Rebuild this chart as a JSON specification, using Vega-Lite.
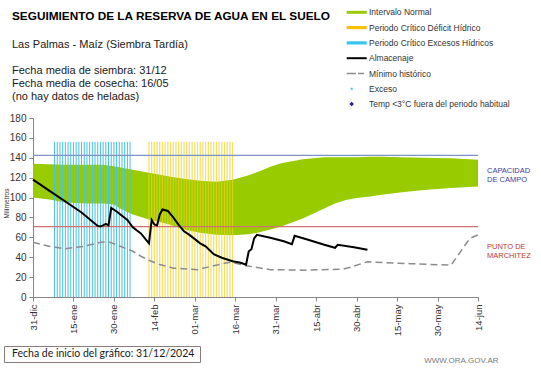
{
  "$schema": "https://vega.github.io/schema/vega-lite/v6.json",
  "width": 445,
  "height": 179,
  "autosize": {"type": "none"},
  "padding": {"left": 33, "top": 118, "right": 63, "bottom": 71},
  "background": "white",
  "config": {"view": {"stroke": null}, "font": "Liberation Sans", "axis": {"labelOverlap": false}},
  "title": {
    "text": "SEGUIMIENTO DE LA RESERVA DE AGUA  EN EL SUELO",
    "subtitle": ["Las Palmas - Maíz  (Siembra Tardía)", "\u200b", "Fecha media de siembra: 31/12", "Fecha media de cosecha: 16/05", "(no hay  datos de heladas)"],
    "anchor": "start",
    "frame": "group",
    "dx": -21,
    "offset": -95,
    "font": "Liberation Sans",
    "fontSize": 11.8,
    "fontWeight": "bold",
    "color": "#000000",
    "subtitleFont": "Liberation Sans",
    "subtitleFontSize": 11,
    "subtitleColor": "#1a1a1a",
    "subtitleLineHeight": 13,
    "subtitlePadding": 17
  },
  "datasets": {
    "intervalo": [
      {"fecha": "2024-12-31", "inf": 100, "sup": 134},
      {"fecha": "2025-01-06", "inf": 98, "sup": 133.5},
      {"fecha": "2025-01-12", "inf": 95, "sup": 133},
      {"fecha": "2025-01-20", "inf": 94, "sup": 133},
      {"fecha": "2025-01-26", "inf": 94, "sup": 133},
      {"fecha": "2025-01-30", "inf": 93, "sup": 131.5},
      {"fecha": "2025-02-02", "inf": 88, "sup": 130},
      {"fecha": "2025-02-06", "inf": 83, "sup": 128},
      {"fecha": "2025-02-12", "inf": 78, "sup": 125},
      {"fecha": "2025-02-19", "inf": 73.5, "sup": 121.5},
      {"fecha": "2025-02-25", "inf": 68, "sup": 119},
      {"fecha": "2025-03-03", "inf": 64.5, "sup": 117},
      {"fecha": "2025-03-09", "inf": 62.5, "sup": 116},
      {"fecha": "2025-03-15", "inf": 62, "sup": 118},
      {"fecha": "2025-03-21", "inf": 63, "sup": 122.5},
      {"fecha": "2025-03-25", "inf": 65, "sup": 126.5},
      {"fecha": "2025-03-29", "inf": 68, "sup": 131},
      {"fecha": "2025-04-02", "inf": 71, "sup": 134.5},
      {"fecha": "2025-04-06", "inf": 75, "sup": 136.5},
      {"fecha": "2025-04-10", "inf": 79, "sup": 138.5},
      {"fecha": "2025-04-14", "inf": 84, "sup": 139.5},
      {"fecha": "2025-04-18", "inf": 89, "sup": 140.5},
      {"fecha": "2025-04-22", "inf": 94, "sup": 140.5},
      {"fecha": "2025-04-26", "inf": 97.5, "sup": 140.5},
      {"fecha": "2025-04-30", "inf": 99.5, "sup": 140.5},
      {"fecha": "2025-05-05", "inf": 101, "sup": 141},
      {"fecha": "2025-05-10", "inf": 103, "sup": 141},
      {"fecha": "2025-05-16", "inf": 105, "sup": 140.5},
      {"fecha": "2025-05-25", "inf": 107.5, "sup": 140},
      {"fecha": "2025-06-04", "inf": 109.5, "sup": 139.5},
      {"fecha": "2025-06-14", "inf": 111, "sup": 138}
    ],
    "excesos": [
      {"fecha": "2025-01-08"}, {"fecha": "2025-01-09"}, {"fecha": "2025-01-10"}, {"fecha": "2025-01-11"},
      {"fecha": "2025-01-12"}, {"fecha": "2025-01-13"}, {"fecha": "2025-01-14"}, {"fecha": "2025-01-15"},
      {"fecha": "2025-01-16"}, {"fecha": "2025-01-17"}, {"fecha": "2025-01-18"}, {"fecha": "2025-01-19"},
      {"fecha": "2025-01-20"}, {"fecha": "2025-01-21"}, {"fecha": "2025-01-22"}, {"fecha": "2025-01-23"},
      {"fecha": "2025-01-24"}, {"fecha": "2025-01-25"}, {"fecha": "2025-01-26"}, {"fecha": "2025-01-27"},
      {"fecha": "2025-01-28"}, {"fecha": "2025-01-29"}, {"fecha": "2025-01-30"}, {"fecha": "2025-01-31"},
      {"fecha": "2025-02-01"}, {"fecha": "2025-02-02"}, {"fecha": "2025-02-03"}, {"fecha": "2025-02-04"},
      {"fecha": "2025-02-05"}
    ],
    "deficit": [
      {"fecha": "2025-02-12"}, {"fecha": "2025-02-13"}, {"fecha": "2025-02-14"}, {"fecha": "2025-02-15"},
      {"fecha": "2025-02-16"}, {"fecha": "2025-02-17"}, {"fecha": "2025-02-18"}, {"fecha": "2025-02-19"},
      {"fecha": "2025-02-20"}, {"fecha": "2025-02-21"}, {"fecha": "2025-02-22"}, {"fecha": "2025-02-23"},
      {"fecha": "2025-02-24"}, {"fecha": "2025-02-25"}, {"fecha": "2025-02-26"}, {"fecha": "2025-02-27"},
      {"fecha": "2025-02-28"}, {"fecha": "2025-03-01"}, {"fecha": "2025-03-02"}, {"fecha": "2025-03-03"},
      {"fecha": "2025-03-04"}, {"fecha": "2025-03-05"}, {"fecha": "2025-03-06"}, {"fecha": "2025-03-07"},
      {"fecha": "2025-03-08"}, {"fecha": "2025-03-09"}, {"fecha": "2025-03-10"}, {"fecha": "2025-03-11"},
      {"fecha": "2025-03-12"}, {"fecha": "2025-03-13"}, {"fecha": "2025-03-14"}, {"fecha": "2025-03-15"}
    ],
    "umbrales": [
      {"umbral": "Capacidad de campo", "mm": 142.5, "fecha": "2025-06-14", "rotulo": "CAPACIDAD\nDE  CAMPO"},
      {"umbral": "Punto de marchitez", "mm": 70.7, "fecha": "2025-06-14", "rotulo": "PUNTO  DE\nMARCHITEZ"}
    ],
    "minimo": [
      {"fecha": "2024-12-31", "mm": 55},
      {"fecha": "2025-01-06", "mm": 51},
      {"fecha": "2025-01-12", "mm": 48.5},
      {"fecha": "2025-01-19", "mm": 51},
      {"fecha": "2025-01-25", "mm": 55},
      {"fecha": "2025-01-28", "mm": 55.5},
      {"fecha": "2025-01-31", "mm": 52.5},
      {"fecha": "2025-02-06", "mm": 46},
      {"fecha": "2025-02-09", "mm": 41},
      {"fecha": "2025-02-12", "mm": 37},
      {"fecha": "2025-02-15", "mm": 33.5},
      {"fecha": "2025-02-21", "mm": 29},
      {"fecha": "2025-03-02", "mm": 27.5},
      {"fecha": "2025-03-08", "mm": 31.5},
      {"fecha": "2025-03-14", "mm": 35},
      {"fecha": "2025-03-20", "mm": 31.5},
      {"fecha": "2025-03-29", "mm": 27.5},
      {"fecha": "2025-04-10", "mm": 27},
      {"fecha": "2025-04-25", "mm": 28},
      {"fecha": "2025-04-29", "mm": 31},
      {"fecha": "2025-05-04", "mm": 35.5},
      {"fecha": "2025-05-10", "mm": 34.5},
      {"fecha": "2025-05-20", "mm": 33.5},
      {"fecha": "2025-06-04", "mm": 32},
      {"fecha": "2025-06-11", "mm": 59},
      {"fecha": "2025-06-14", "mm": 62.5}
    ],
    "almacenaje": [
      {"fecha": "2024-12-31", "mm": 118},
      {"fecha": "2025-01-06", "mm": 107},
      {"fecha": "2025-01-12", "mm": 96},
      {"fecha": "2025-01-18", "mm": 85},
      {"fecha": "2025-01-22", "mm": 76},
      {"fecha": "2025-01-24", "mm": 71.5},
      {"fecha": "2025-01-25", "mm": 71},
      {"fecha": "2025-01-26", "mm": 72},
      {"fecha": "2025-01-27", "mm": 73.5},
      {"fecha": "2025-01-28", "mm": 72},
      {"fecha": "2025-01-29", "mm": 89.5},
      {"fecha": "2025-01-31", "mm": 86},
      {"fecha": "2025-02-04", "mm": 77.5},
      {"fecha": "2025-02-06", "mm": 70},
      {"fecha": "2025-02-09", "mm": 64},
      {"fecha": "2025-02-12", "mm": 54},
      {"fecha": "2025-02-13", "mm": 77.5},
      {"fecha": "2025-02-14", "mm": 73},
      {"fecha": "2025-02-15", "mm": 72},
      {"fecha": "2025-02-16", "mm": 83},
      {"fecha": "2025-02-17", "mm": 88},
      {"fecha": "2025-02-19", "mm": 86.5},
      {"fecha": "2025-02-21", "mm": 80},
      {"fecha": "2025-02-23", "mm": 72.5},
      {"fecha": "2025-02-25", "mm": 66},
      {"fecha": "2025-02-27", "mm": 62.5},
      {"fecha": "2025-03-03", "mm": 54},
      {"fecha": "2025-03-05", "mm": 51},
      {"fecha": "2025-03-08", "mm": 43},
      {"fecha": "2025-03-11", "mm": 39.5},
      {"fecha": "2025-03-15", "mm": 36},
      {"fecha": "2025-03-18", "mm": 34.5},
      {"fecha": "2025-03-20", "mm": 32.5},
      {"fecha": "2025-03-21", "mm": 46},
      {"fecha": "2025-03-22", "mm": 48},
      {"fecha": "2025-03-23", "mm": 59},
      {"fecha": "2025-03-24", "mm": 62.5},
      {"fecha": "2025-03-29", "mm": 59.5},
      {"fecha": "2025-04-03", "mm": 56},
      {"fecha": "2025-04-06", "mm": 53},
      {"fecha": "2025-04-07", "mm": 61.5},
      {"fecha": "2025-04-12", "mm": 57.5},
      {"fecha": "2025-04-18", "mm": 52.5},
      {"fecha": "2025-04-22", "mm": 49.5},
      {"fecha": "2025-04-23", "mm": 52.5},
      {"fecha": "2025-04-29", "mm": 50},
      {"fecha": "2025-05-04", "mm": 47.5}
    ],
    "series": [
      {"serie": "Intervalo Normal"},
      {"serie": "Periodo Crítico Déficit Hídrico"},
      {"serie": "Periodo Crítico Excesos Hídricos"},
      {"serie": "Almacenaje"},
      {"serie": "Mínimo histórico"},
      {"serie": "Exceso"},
      {"serie": "Temp <3°C fuera del periodo habitual"}
    ],
    "inicio": [{"nota": "Fecha de inicio del gráfico:  31/12/2024"}]
  },
  "layer": [
    {
      "data": {"name": "intervalo"},
      "mark": {"type": "area", "color": "#99cc00", "opacity": 1},
      "encoding": {
        "x": {
          "field": "fecha", "type": "temporal",
          "scale": {"type": "utc", "nice": false, "domain": [{"year": 2024, "month": 12, "date": 31, "utc": true}, {"year": 2025, "month": 6, "date": 14, "utc": true}]},
          "axis": {
            "title": "WWW.ORA.GOV.AR",
            "titleFont": "Liberation Sans", "titleFontSize": 8, "titleFontWeight": "normal", "titleColor": "#7a7a7a",
            "titleAnchor": "end", "titleAlign": "right", "titleBaseline": "middle", "titleX": 465, "titleY": 63,
            "tickCount": 24,
            "values": [
              {"year": 2024, "month": 12, "date": 31, "utc": true},
              {"year": 2025, "month": 1, "date": 15, "utc": true},
              {"year": 2025, "month": 1, "date": 30, "utc": true},
              {"year": 2025, "month": 2, "date": 14, "utc": true},
              {"year": 2025, "month": 3, "date": 1, "utc": true},
              {"year": 2025, "month": 3, "date": 16, "utc": true},
              {"year": 2025, "month": 3, "date": 31, "utc": true},
              {"year": 2025, "month": 4, "date": 15, "utc": true},
              {"year": 2025, "month": 4, "date": 30, "utc": true},
              {"year": 2025, "month": 5, "date": 15, "utc": true},
              {"year": 2025, "month": 5, "date": 30, "utc": true},
              {"year": 2025, "month": 6, "date": 14, "utc": true}
            ],
            "labelExpr": "utcFormat(datum.value, '%d') + '-' + ['ene','feb','mar','abr','may','jun','jul','ago','sep','oct','nov','dic'][utcmonth(datum.value)]",
            "labelAngle": -90, "labelFontSize": 9.5, "labelColor": "#333333", "labelPadding": 3,
            "tickSize": 4, "tickColor": "#868686", "domainColor": "#868686", "grid": false, "labelFlush": false, "labelOverlap": false
          }
        },
        "y": {
          "field": "sup", "type": "quantitative",
          "scale": {"domain": [0, 180], "nice": false},
          "axis": {
            "title": "Milímetros", "titleFontSize": 6.5, "titleFontWeight": "normal", "titleColor": "#333333",
            "titleX": -27, "titleY": 85, "titleAlign": "center", "titleBaseline": "middle",
            "tickCount": 20,
            "values": [0, 20, 40, 60, 80, 100, 120, 140, 160, 180],
            "labelFontSize": 10, "labelColor": "#333333", "labelPadding": 3, "labelOverlap": false, "labelFlush": false, "labelBound": false,
            "tickSize": 4, "tickColor": "#868686", "domainColor": "#868686", "grid": false
          }
        },
        "y2": {"field": "inf"}
      }
    },
    {
      "data": {"name": "excesos"},
      "mark": {"type": "rule", "color": "#46c3e3", "strokeWidth": 1},
      "encoding": {
        "x": {"field": "fecha", "type": "temporal"},
        "y": {"datum": 0},
        "y2": {"datum": 156}
      }
    },
    {
      "data": {"name": "deficit"},
      "mark": {"type": "rule", "color": "#f2d21e", "strokeWidth": 1.2, "opacity": 0.7},
      "encoding": {
        "x": {"field": "fecha", "type": "temporal"},
        "y": {"datum": 0},
        "y2": {"datum": 156}
      }
    },
    {
      "data": {"name": "umbrales"},
      "transform": [{"filter": "datum.umbral == 'Capacidad de campo'"}],
      "mark": {"type": "rule", "color": "#7f94c6", "strokeWidth": 1.2},
      "encoding": {"y": {"field": "mm", "type": "quantitative"}}
    },
    {
      "data": {"name": "umbrales"},
      "transform": [{"filter": "datum.umbral == 'Punto de marchitez'"}],
      "mark": {"type": "rule", "color": "#d07272", "strokeWidth": 1.3},
      "encoding": {"y": {"field": "mm", "type": "quantitative"}}
    },
    {
      "data": {"name": "umbrales"},
      "transform": [{"filter": "datum.umbral == 'Capacidad de campo'"}],
      "mark": {"type": "text", "color": "#3b3ba8", "fontSize": 7.5, "align": "left", "baseline": "middle", "lineBreak": "\n", "lineHeight": 9, "dx": 9, "dy": 15.5},
      "encoding": {
        "x": {"field": "fecha", "type": "temporal"},
        "y": {"field": "mm", "type": "quantitative"},
        "text": {"field": "rotulo", "type": "nominal"}
      }
    },
    {
      "data": {"name": "umbrales"},
      "transform": [{"filter": "datum.umbral == 'Punto de marchitez'"}],
      "mark": {"type": "text", "color": "#c0392b", "fontSize": 7.5, "align": "left", "baseline": "middle", "lineBreak": "\n", "lineHeight": 9, "dx": 9, "dy": 20.5},
      "encoding": {
        "x": {"field": "fecha", "type": "temporal"},
        "y": {"field": "mm", "type": "quantitative"},
        "text": {"field": "rotulo", "type": "nominal"}
      }
    },
    {
      "data": {"name": "minimo"},
      "mark": {"type": "line", "color": "#8c8c8c", "strokeWidth": 1.5, "strokeDash": [7, 4]},
      "encoding": {
        "x": {"field": "fecha", "type": "temporal"},
        "y": {"field": "mm", "type": "quantitative"}
      }
    },
    {
      "data": {"name": "almacenaje"},
      "mark": {"type": "line", "color": "#000000", "strokeWidth": 2},
      "encoding": {
        "x": {"field": "fecha", "type": "temporal"},
        "y": {"field": "mm", "type": "quantitative"}
      }
    },
    {
      "data": {"name": "series"},
      "transform": [{"filter": "false"}],
      "mark": {"type": "point", "filled": true, "opacity": 1},
      "encoding": {
        "color": {
          "field": "serie", "type": "nominal",
          "scale": {
            "domain": ["Intervalo Normal", "Periodo Crítico Déficit Hídrico", "Periodo Crítico Excesos Hídricos", "Almacenaje", "Mínimo histórico", "Exceso", "Temp <3°C fuera del periodo habitual"],
            "range": ["#99cc00", "#ffc000", "#33c6f0", "#000000", "#8c8c8c", "#33c6f0", "#1f1f9f"]
          },
          "legend": {
            "title": null, "orient": "none", "legendX": 318.7, "legendY": -110.7,
            "symbolSize": 100, "symbolStrokeWidth": 0, "labelOffset": 7.3, "rowPadding": 5.3, "padding": 0,
            "labelFont": "Liberation Sans", "labelFontSize": 8.5, "labelColor": "#333333", "labelLimit": 300
          }
        },
        "shape": {
          "field": "serie", "type": "nominal",
          "scale": {
            "domain": ["Intervalo Normal", "Periodo Crítico Déficit Hídrico", "Periodo Crítico Excesos Hídricos", "Almacenaje", "Mínimo histórico", "Exceso", "Temp <3°C fuera del periodo habitual"],
            "range": [
              "M-2,-0.3H2V0.3H-2Z",
              "M-2,-0.32H2V0.32H-2Z",
              "M-2,-0.32H2V0.32H-2Z",
              "M-2,-0.2H2V0.2H-2Z",
              "M-2,-0.15H-0.15V0.15H-2Z M0.25,-0.15H1.5V0.15H0.25Z",
              "M-1.2,-0.2H-0.8V0.2H-1.2Z",
              "M-1,-0.45L-0.55,0L-1,0.45L-1.45,0Z"
            ]
          }
        }
      }
    },
    {
      "data": {"name": "inicio"},
      "transform": [{"filter": "false"}],
      "mark": {"type": "point"},
      "encoding": {
        "strokeDash": {
          "field": "nota", "type": "nominal",
          "scale": {"domain": ["Fecha de inicio del gráfico:  31/12/2024"], "range": [[1, 0]]},
          "legend": {
            "title": null, "orient": "none", "legendX": -29, "legendY": 228,
            "symbolType": "circle", "symbolSize": 0, "symbolOpacity": 0, "labelOffset": -5, "padding": 2.5,
            "strokeColor": "#8c7c7c", "fillColor": "#ffffff",
            "labelFont": "Lato", "labelFontSize": 10.5, "labelColor": "#1a1a1a", "labelLimit": 400
          }
        }
      }
    }
  ]
}
